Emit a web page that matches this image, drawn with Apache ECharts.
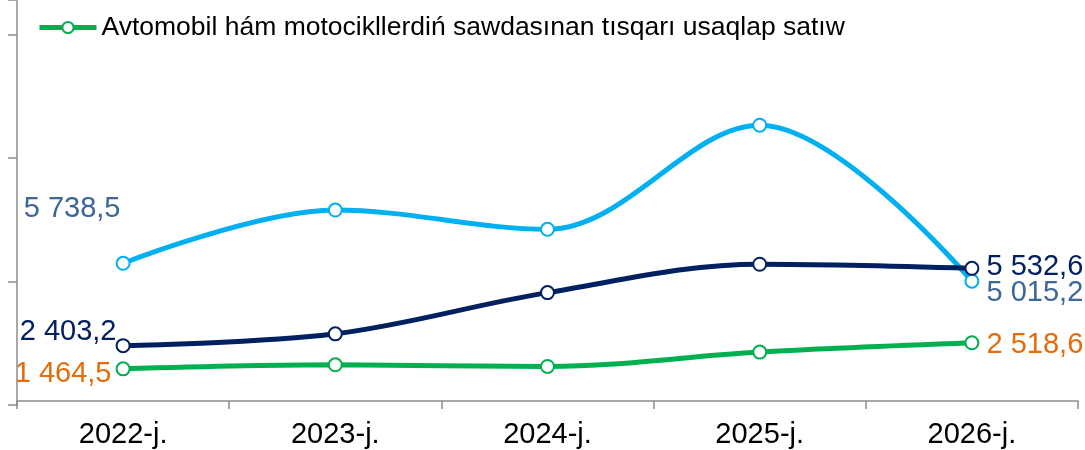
<!DOCTYPE html>
<html>
<head>
<meta charset="utf-8">
<script src="https://cdn.jsdelivr.net/npm/echarts@6/dist/echarts.min.js"></script>
<style>
  html, body { margin: 0; padding: 0; background: #fff; }
  #chart { width: 1085px; height: 450px; }
</style>
</head>
<body>
<div id="chart"></div>
<script>
var years = ['2022-j.', '2023-j.', '2024-j.', '2025-j.', '2026-j.'];
var blueValues = [5738.5, 7894, 7114, 11330, 5015.2];
var navyValues = [2403.2, 2882, 4551, 5699, 5532.6];
var greenValues = [1464.5, 1629, 1560, 2142, 2518.6];
var legendName = 'Avtomobil hám motocikllerdiń sawdasınan tısqarı usaqlap satıw';

var FONT = '"Liberation Sans", Arial, sans-serif';

// 5738.5 -> "5 738,5"
function fmt(v) {
  var parts = v.toFixed(1).split('.');
  return parts[0].replace(/\B(?=(\d{3})+(?!\d))/g, ' ') + ',' + parts[1];
}

// only first and last points get a label
function withLabels(values, color, firstOffset, lastOffset) {
  return values.map(function (v, i) {
    var item = { value: v };
    if (i === 0 || i === values.length - 1) {
      item.label = {
        show: true,
        position: 'inside',
        offset: i === 0 ? firstOffset : lastOffset,
        color: color,
        fontSize: 29,
        fontFamily: FONT,
        formatter: function (p) { return fmt(p.value); }
      };
    }
    return item;
  });
}

function lineSeries(name, color, data) {
  return {
    name: name,
    type: 'line',
    smooth: 0.35,
    symbol: 'emptyCircle',
    symbolSize: 13,
    showAllSymbol: true,
    lineStyle: { color: color, width: 5 },
    itemStyle: { color: color, borderColor: color, borderWidth: 2 },
    emphasis: { disabled: true },
    data: data
  };
}

var chart = echarts.init(document.getElementById('chart'));
chart.setOption({
  animation: false,
  textStyle: { fontFamily: FONT },
  grid: {
    left: 17,
    right: 7,
    top: 0,
    bottom: 45,
    containLabel: false
  },
  legend: {
    data: [legendName],
    left: 37,
    top: 14,
    padding: 0,
    itemWidth: 57,
    itemHeight: 14,
    itemGap: 5,
    lineStyle: { width: 5 },
    itemStyle: { borderWidth: 2 },
    textStyle: { color: '#000', fontSize: 26.5, fontFamily: FONT }
  },
  xAxis: {
    type: 'category',
    data: years,
    boundaryGap: true,
    offset: -4,
    axisLine: { onZero: false, lineStyle: { color: '#8c8c8c', width: 1.5 } },
    axisTick: { show: true, length: 8, lineStyle: { color: '#8c8c8c', width: 1.5 } },
    axisLabel: { color: '#000', fontSize: 29, fontFamily: FONT, margin: 19 },
    splitLine: { show: false }
  },
  yAxis: {
    type: 'value',
    min: 0,
    max: 16400,
    interval: 5000,
    axisLine: { show: true, lineStyle: { color: '#8c8c8c', width: 1.5 } },
    axisTick: { show: true, length: 9, lineStyle: { color: '#8c8c8c', width: 1.5 } },
    axisLabel: { show: false },
    splitLine: { show: false }
  },
  series: [
    lineSeries('Series blue', '#00b0f0', withLabels(blueValues, '#3b679a', [-51, -54], [63, 12])),
    lineSeries('Series navy', '#002060', withLabels(navyValues, '#002060', [-55, -14], [63, -1])),
    lineSeries(legendName, '#00b050', withLabels(greenValues, '#e46c0a', [-60, 5], [63, 2]))
  ]
});
</script>
</body>
</html>
